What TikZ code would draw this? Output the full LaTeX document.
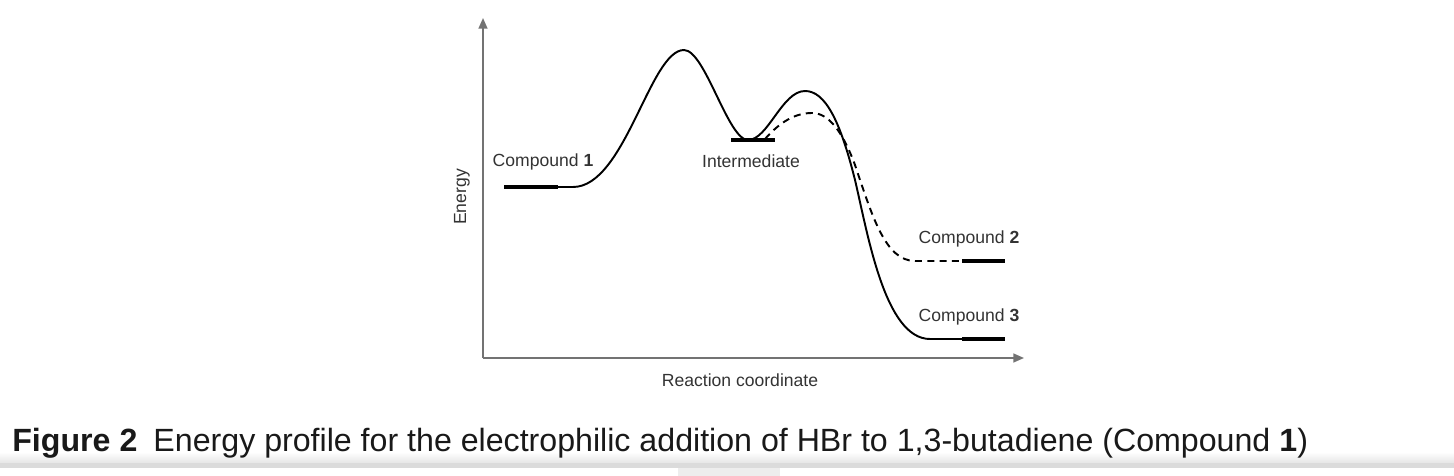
\documentclass[tikz,border=0pt]{standalone}
\usepackage{fontspec}
\setmainfont{Liberation Sans}
\usetikzlibrary{arrows.meta}
\tikzset{
	axis/.style={draw=black!55, line width=1pt, -{Triangle[length=6pt,width=5pt]}},
	curve/.style={draw=black, line width=1.1pt},
	level/.style={draw=black, line width=2.4pt},
	lbl/.style={text=black!80, font=\fontsize{10}{12}\selectfont, inner sep=0pt}
}
\begin{document}
\begin{tikzpicture}[x=0.02cm,y=-0.02cm]
			\useasboundingbox (0,0) rectangle (1454,476);
			\shade [top color=white, bottom color=black!10] (0,452) rectangle (1454,463);
			\fill [black!14] (0,463) rectangle (1454,468);
			\fill [black!7] (678,468) rectangle (780,476);
			\coordinate (o) at (483,358);
			\coordinate (ytop) at (483,18);
			\coordinate (xend) at (1024,358);
			\draw [axis] (o) to (ytop);
			\draw [axis] (o) to (xend);
			\coordinate (c1a) at (504,187);
			\coordinate (c1b) at (558,187);
			\coordinate (ts1) at (684,50);
			\coordinate (ima) at (731,140);
			\coordinate (imb) at (775,140);
			\coordinate (imlow) at (748,140);
			\coordinate (ts2) at (805,91);
			\coordinate (ts3) at (812,113);
			\coordinate (c2a) at (962,261);
			\coordinate (c2b) at (1005,261);
			\coordinate (c3a) at (962,339);
			\coordinate (c3b) at (1005,339);
			\draw [curve] (c1b) -- (573,187) .. controls (625,187) and (650,50) .. (ts1)
				.. controls (705,50) and (728,140) .. (imlow)
				.. controls (768,140) and (782,91) .. (ts2)
				.. controls (825,91) and (840,120) .. (855,180)
				.. controls (868,235) and (885,339) .. (930,339) -- (c3a);
			\draw [curve, dashed, dash pattern=on 4pt off 3pt] (765,139) .. controls (780,122) and (795,113) .. (ts3)
				.. controls (828,113) and (842,130) .. (855,165)
				.. controls (872,215) and (885,261) .. (915,261) -- (c2a);
			\draw [level] (c1a) to (c1b);
			\draw [level] (ima) to (imb);
			\draw [level] (c2a) to (c2b);
			\draw [level] (c3a) to (c3b);
			\node [lbl] (t1) at (543,162) {Compound \textbf{1}};
			\node [lbl] (tim) at (751,161) {Intermediate};
			\node [lbl] (t2) at (969,239) {Compound \textbf{2}};
			\node [lbl] (t3) at (969,317) {Compound \textbf{3}};
			\node [lbl, rotate=90] (ey) at (462,197) {Energy};
			\node [lbl] (rc) at (740,380) {Reaction coordinate};
			\node [anchor=base west, inner sep=0pt, text=black!90, font=\fontsize{18.3}{22}\selectfont] (cap) at (12,451) {\textbf{Figure 2}\enspace Energy profile for the electrophilic addition of HBr to 1,3-butadiene (Compound \textbf{1})};
\end{tikzpicture}
\end{document}
